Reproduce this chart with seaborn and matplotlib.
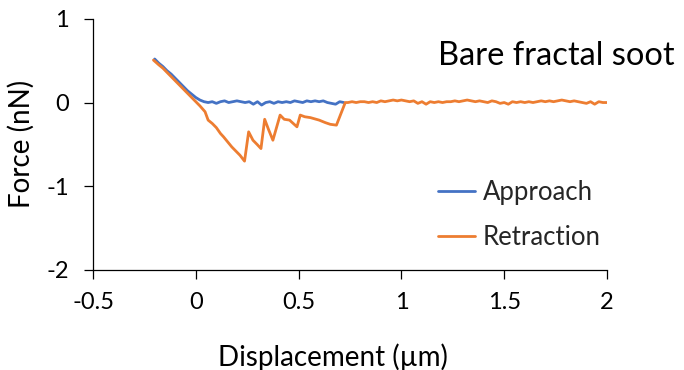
import numpy as np
import pandas as pd
import matplotlib
matplotlib.use("Agg")
import matplotlib.pyplot as plt
import seaborn as sns
from matplotlib.lines import Line2D

# ---- data ----
approach_x = [-0.20, -0.18, -0.16, -0.14, -0.12, -0.10, -0.08, -0.06, -0.04, -0.02,
              0.00, 0.02, 0.04, 0.06, 0.08, 0.10, 0.12, 0.14, 0.16, 0.18, 0.20,
              0.22, 0.24, 0.26, 0.28, 0.30, 0.32, 0.34, 0.36, 0.38, 0.40, 0.42,
              0.44, 0.46, 0.48, 0.50, 0.52, 0.54, 0.56, 0.58, 0.60, 0.62, 0.64,
              0.66, 0.68, 0.70, 0.72]
approach_y = [0.52, 0.47, 0.43, 0.38, 0.34, 0.29, 0.24, 0.19, 0.14, 0.10,
              0.06, 0.03, 0.01, 0.00, 0.01, -0.01, 0.01, 0.02, 0.00, 0.01, 0.02,
              0.01, 0.00, 0.01, -0.02, 0.01, -0.03, 0.00, 0.01, -0.01, 0.01, 0.00,
              0.01, 0.00, 0.02, 0.01, 0.00, 0.02, 0.01, 0.02, 0.01, 0.02, 0.00,
              -0.01, -0.02, 0.01, 0.00]

retraction_x = [-0.206, -0.18, -0.16, -0.14, -0.12, -0.10, -0.08, -0.06, -0.04, -0.02,
                0.00, 0.02, 0.045, 0.06, 0.08, 0.10, 0.12, 0.135, 0.155, 0.175,
                0.195, 0.215, 0.237, 0.257, 0.278, 0.298, 0.317, 0.335, 0.355, 0.375,
                0.41, 0.43, 0.456, 0.492, 0.508, 0.53, 0.557, 0.60, 0.63, 0.654,
                0.684, 0.727,
                0.74, 0.76, 0.78, 0.80, 0.82, 0.84, 0.86, 0.88, 0.90, 0.92,
                0.94, 0.96, 0.98, 1.00, 1.02, 1.04, 1.06, 1.08, 1.10, 1.12,
                1.14, 1.16, 1.18, 1.20, 1.22, 1.24, 1.26, 1.28, 1.30, 1.32,
                1.34, 1.36, 1.38, 1.40, 1.42, 1.44, 1.46, 1.48, 1.50, 1.52,
                1.54, 1.56, 1.58, 1.60, 1.62, 1.64, 1.66, 1.68, 1.70, 1.72,
                1.74, 1.76, 1.78, 1.80, 1.82, 1.84, 1.86, 1.88, 1.90, 1.92,
                1.94, 1.96, 1.98, 2.00]
retraction_y = [0.507, 0.45, 0.41, 0.36, 0.31, 0.26, 0.21, 0.16, 0.11, 0.06,
                0.01, -0.04, -0.11, -0.21, -0.25, -0.30, -0.37, -0.41, -0.47, -0.53,
                -0.58, -0.63, -0.70, -0.35, -0.45, -0.50, -0.55, -0.20, -0.33, -0.45,
                -0.15, -0.20, -0.21, -0.29, -0.15, -0.17, -0.18, -0.21, -0.24, -0.26,
                -0.27, 0.00,
                0.00, 0.01, 0.00, 0.01, 0.01, 0.00, 0.01, 0.00, 0.02, 0.01,
                0.02, 0.03, 0.02, 0.03, 0.02, 0.01, 0.02, -0.01, 0.01, -0.02,
                0.01, 0.00, 0.01, 0.00, 0.01, 0.01, 0.02, 0.01, 0.02, 0.03,
                0.02, 0.01, 0.02, 0.01, 0.00, 0.02, 0.01, -0.01, 0.00, -0.02,
                0.01, 0.00, 0.01, 0.00, 0.01, 0.00, 0.01, 0.02, 0.01, 0.02,
                0.01, 0.02, 0.03, 0.02, 0.01, 0.02, 0.01, 0.00, -0.01, 0.01,
                -0.02, 0.01, 0.00, 0.00]

series_names = ["Approach", "Retraction"]
series_colors = ["#4472C4", "#ED7D31"]
x_ticks = [-0.5, 0, 0.5, 1, 1.5, 2]
x_tick_labels = ["-0.5", "0", "0.5", "1", "1.5", "2"]
y_ticks = [-2, -1, 0, 1]
y_tick_labels = ["-2", "-1", "0", "1"]
title_text = "Bare fractal soot"
x_label = "Displacement (\u00b5m)"
y_label = "Force (nN)"

df = pd.concat([
    pd.DataFrame({"x": approach_x, "y": approach_y, "series": series_names[0]}),
    pd.DataFrame({"x": retraction_x, "y": retraction_y, "series": series_names[1]}),
], ignore_index=True)

sns.set_theme(style="white")
plt.rcParams["font.family"] = ["Lato", "DejaVu Sans"]

fig = plt.figure(figsize=(6.84, 3.70), dpi=100)
ax = fig.add_axes([93 / 684, 1 - 270 / 370, (607 - 93) / 684, (270 - 18.8) / 370])

sns.lineplot(data=df, x="x", y="y", hue="series", hue_order=series_names,
             palette=series_colors, sort=False, estimator=None, units="series",
             linewidth=2.0, ax=ax, legend=False)

ax.set_xlim(-0.5, 2)
ax.set_ylim(-2, 1)
ax.set_xticks(x_ticks)
ax.set_xticklabels(x_tick_labels)
ax.set_yticks(y_ticks)
ax.set_yticklabels(y_tick_labels)
for s in ["top", "right"]:
    ax.spines[s].set_visible(False)
for s in ["left", "bottom"]:
    ax.spines[s].set_color("#000000")
    ax.spines[s].set_linewidth(0.9)
ax.tick_params(axis="both", which="major", direction="out", length=6.5, width=0.9,
               color="#000000", labelsize=17, labelcolor="#000000",
               bottom=True, left=True, top=False, right=False)
ax.tick_params(axis="y", pad=11)
ax.tick_params(axis="x", pad=9)
ax.set_xlabel(x_label, fontsize=20, color="#000000")
ax.set_ylabel(y_label, fontsize=20, color="#000000")
ax.xaxis.set_label_coords(0.467, -0.292)
ax.yaxis.set_label_coords(-0.113, 0.5)
ax.grid(False)

handles = [Line2D([], [], color=c, linewidth=2.0) for c in series_colors]
ax.legend(handles, series_names, loc="center left", bbox_to_anchor=(438 / 684, 1 - 214.7 / 370),
          bbox_transform=fig.transFigure, frameon=False, fontsize=18.5, handlelength=1.45,
          handletextpad=0.3, labelspacing=0.78, borderpad=0, borderaxespad=0)

fig.text(438 / 684, 1 - 65 / 370, title_text, fontsize=23.5, color="#000000",
         ha="left", va="baseline")

fig.savefig("out.png", dpi=100)
